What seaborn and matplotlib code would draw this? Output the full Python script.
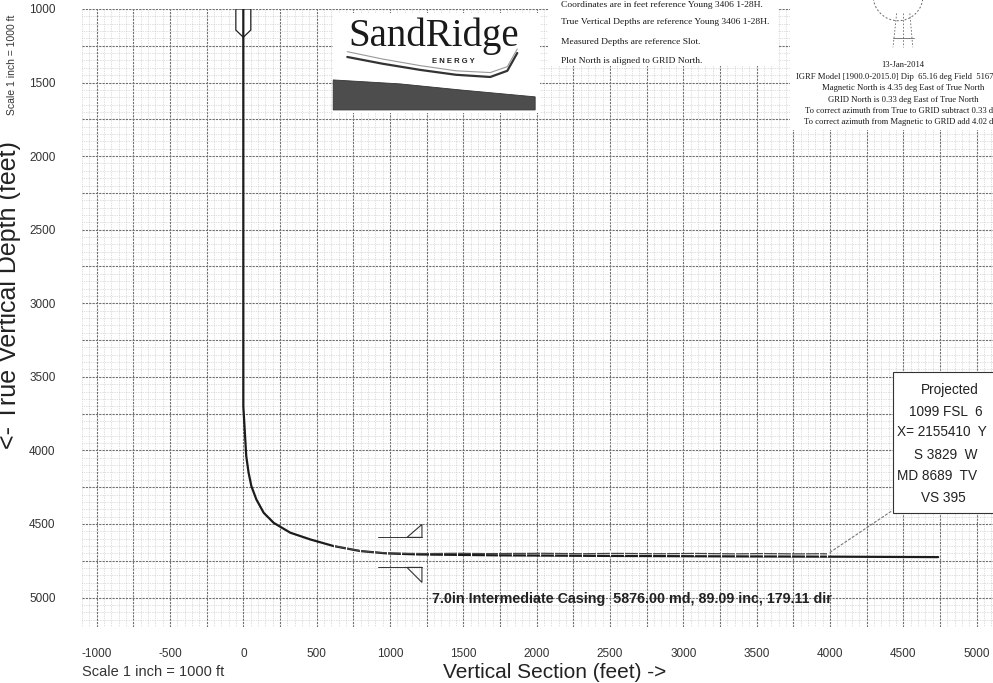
import seaborn as sns
import matplotlib.pyplot as plt
from matplotlib.ticker import MultipleLocator, FuncFormatter
from matplotlib.patches import Rectangle, Polygon, Ellipse

# planned well path: vertical section (ft) vs true vertical depth (ft)
plan_vs = [0, 0, 0, 20, 36, 55, 89, 139, 207, 320, 457, 616, 798, 980,
           1200, 1750, 2500, 3300, 4000, 4738]
plan_tvd = [0, 1000, 3700, 4039, 4152, 4243, 4333, 4424, 4492, 4559, 4605,
            4650, 4684, 4700, 4707, 4713, 4717, 4720, 4722, 4725]

# survey stations along the lateral
survey_vs = [616, 700, 798, 890, 980, 1075, 1170, 1265, 1360, 1455, 1550,
             1645, 1740, 1835, 1930, 2025, 2120, 2215, 2310, 2405, 2500,
             2595, 2690, 2785, 2880, 2975, 3070, 3165, 3260, 3355, 3450,
             3545, 3640, 3735, 3830, 3925, 3980]
survey_tvd = [4648, 4666, 4682, 4692, 4697, 4699, 4700, 4701, 4700, 4699,
              4700, 4701, 4701, 4700, 4700, 4699, 4700, 4701, 4702, 4701,
              4700, 4700, 4701, 4702, 4702, 4701, 4700, 4701, 4702, 4703,
              4702, 4701, 4702, 4703, 4703, 4702, 4703]

casing_label = "7.0in Intermediate Casing  5876.00 md, 89.09 inc, 179.11 dir"
notes = ["Coordinates are in feet reference Young 3406 1-28H.",
         "True Vertical Depths are reference Young 3406 1-28H.",
         "Measured Depths are reference Slot.",
         "Plot North is aligned to GRID North."]
mag_notes = ["13-Jan-2014",
             "IGRF Model [1900.0-2015.0] Dip  65.16 deg Field  51670 nT",
             "Magnetic North is 4.35 deg East of True North",
             "GRID North is 0.33 deg East of True North",
             "To correct azimuth from True to GRID subtract 0.33 deg",
             "To correct azimuth from Magnetic to GRID add 4.02 deg"]
proj_lines = ["Projected", "1099 FSL  6", "X= 2155410  Y", "S 3829  W",
              "MD 8689  TV", "VS 395"]

sns.set_theme(style="white")
plt.rcParams['font.family'] = ['Liberation Sans', 'DejaVu Sans']

fig = plt.figure(figsize=(9.93, 6.83), dpi=100)
ax = fig.add_axes([82 / 993, 56 / 683, 911 / 993, 618 / 683])
ax.set_xlim(-1100, 5112)
ax.set_ylim(5200, 1000)
for s in ax.spines.values():
    s.set_visible(False)

# graph-paper grid
ax.xaxis.set_major_locator(MultipleLocator(250))
ax.yaxis.set_major_locator(MultipleLocator(250))
ax.xaxis.set_minor_locator(MultipleLocator(50))
ax.yaxis.set_minor_locator(MultipleLocator(50))
fmt = FuncFormatter(lambda v, p: f"{int(v)}" if v % 500 == 0 else "")
ax.xaxis.set_major_formatter(fmt)
ax.yaxis.set_major_formatter(fmt)
ax.grid(which="major", color="#6f6f6f", lw=0.8, ls=(0, (2, 1)))
ax.grid(which="minor", color="#c0c0c0", lw=0.5, ls=(0, (1, 1.5)))
ax.tick_params(which="both", length=0, labelsize=8.5, labelcolor="#333333")
ax.tick_params(axis="y", pad=19)
ax.tick_params(axis="x", pad=15)
ax.set_xlabel("")
ax.set_ylabel("")

# casing shoe at top of hole
ax.add_patch(Polygon([(-51, 1000), (51, 1000), (51, 1143), (0, 1192), (-51, 1143)],
                     closed=True, fc="white", ec="#222222", lw=0.9, zorder=3))

sns.lineplot(x=plan_vs, y=plan_tvd, sort=False, estimator=None, color="#1c1c1c",
             lw=1.6, ax=ax, zorder=4)
sns.lineplot(x=survey_vs, y=survey_tvd, sort=False, estimator=None, color="#444444",
             lw=0.9, marker="|", markersize=4, markeredgewidth=0.8, ax=ax, zorder=5)

# target markers
for y0, y1 in [(4591, 4503), (4795, 4897)]:
    ax.plot([920, 1218], [y0, y0], color="#333333", lw=0.7, zorder=3)
    ax.add_patch(Polygon([(1116, y0), (1218, y0), (1218, y1)], closed=True,
                         fill=False, ec="#333333", lw=0.8, zorder=3))

ax.text(1286, 5012, casing_label, fontsize=10.3, fontweight="bold", color="#222222",
        va="center", ha="left", zorder=6)

# projection box
ax.add_patch(Rectangle((4431, 3464), 1200, 964, fc="white", ec="#333333",
                       lw=0.8, zorder=6, clip_on=False))
ax.annotate("", xy=(4431, 4405), xytext=(3985, 4703),
            arrowprops=dict(arrowstyle="-", ls=(0, (2, 2)), color="#777777", lw=0.8),
            zorder=6)
proj_x = [4620, 4540, 4460, 4570, 4460, 4620]
proj_y = [3587, 3736, 3878, 4028, 4177, 4320]
for t, px, py in zip(proj_lines, proj_x, proj_y):
    ax.text(px, py, t, fontsize=9.8, color="#222222", va="center", ha="left",
            zorder=7, clip_on=False)

# logo
ax.add_patch(Rectangle((613, 1030), 1412, 676, fc="white", ec="none", zorder=3))
ax.text(1300, 1185, "SandRidge", fontsize=28, family="Liberation Serif",
        color="#1a1a1a", ha="center", va="center", zorder=4)
ax.text(1431, 1360, "E N E R G Y", fontsize=5.5, fontweight="bold",
        color="#222222", ha="center", va="center", zorder=4)
ax.plot([709, 950, 1207, 1450, 1684, 1800, 1868], [1326, 1372, 1414, 1447, 1462, 1420, 1299],
        color="#333333", lw=1.6, zorder=4)
ax.plot([709, 950, 1207, 1450, 1684, 1800, 1868], [1290, 1340, 1385, 1420, 1432, 1392, 1272],
        color="#999999", lw=0.8, zorder=4)
ax.add_patch(Polygon([(613, 1482), (1070, 1509), (1479, 1550), (1990, 1597),
                      (1990, 1686), (613, 1686)], closed=True, fc="#4d4d4d",
                     ec="#333333", lw=0.6, zorder=4))

# reference notes
ax.add_patch(Rectangle((2079, 990), 1568, 397, fc="white", ec="none", zorder=3,
                       clip_on=False))
for t, py in zip(notes, [973, 1088, 1224, 1353]):
    ax.text(2168, py, t, fontsize=6.8, family="Liberation Serif",
            color="#1a1a1a", va="center", ha="left", zorder=4, clip_on=False)

# compass + magnetic info
ax.add_patch(Rectangle((3729, 940), 1500, 881, fc="white", ec="none", zorder=3,
                       clip_on=False))
ax.add_patch(Ellipse((4465, 910), 340, 340, fill=False, ec="#666666", lw=0.7,
                     ls=(0, (2, 2)), zorder=4, clip_on=False))
for xa, xb in [(4455, 4430), (4499, 4499), (4545, 4565)]:
    ax.plot([xa, xb], [1030, 1260], color="#666666", lw=0.6, ls=(0, (2, 2)),
            zorder=4, clip_on=False)
ax.plot([4430, 4570], [1200, 1200], color="#666666", lw=0.6, zorder=4, clip_on=False)
for t, py in zip(mag_notes, [1380, 1460, 1540, 1620, 1695, 1770]):
    ax.text(4500, py, t, fontsize=6.2, family="Liberation Serif", color="#1a1a1a",
            ha="center", va="center", zorder=4, clip_on=False)

# axis titles
fig.text(555 / 993, 0.002, "Vertical Section (feet) ->", fontsize=15,
         color="#222222", ha="center", va="bottom")
fig.text(9 / 993, 1 - 295 / 683, "<- True Vertical Depth (feet)", fontsize=18,
         color="#222222", rotation=90, ha="center", va="center")
fig.text(12 / 993, 1 - 65 / 683, "Scale 1 inch = 1000 ft", fontsize=7.5,
         color="#333333", rotation=90, ha="center", va="center")
fig.text(82 / 993, 1 - 672 / 683, "Scale 1 inch = 1000 ft", fontsize=10.5,
         color="#333333", ha="left", va="center")

fig.savefig("out.png", dpi=100)
